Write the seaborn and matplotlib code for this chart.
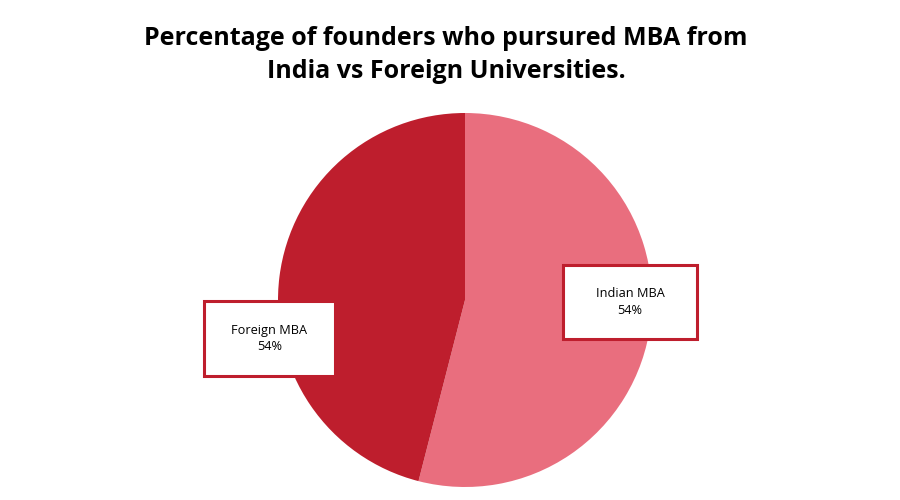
import matplotlib
matplotlib.use("Agg")
import matplotlib.pyplot as plt
from matplotlib.patches import Rectangle
import seaborn as sns

sns.set_theme(style="white")
plt.rcParams['font.family'] = ['Open Sans', 'DejaVu Sans']

# data
labels = ["Indian MBA", "Foreign MBA"]
shares = [54, 46]
shown_pct = ["54%", "54%"]   # as printed on the original chart
colors = ["#E96E7E", "#BE1E2D"]
title = "Percentage of founders who pursured MBA from\nIndia vs Foreign Universities."

W, H = 900, 500
fig = plt.figure(figsize=(9, 5), dpi=100)
fig.patch.set_facecolor("white")

# pie axes: center (465, 300) px, radius 187 px
cx, cy, r = 465, 300, 187
ax = fig.add_axes([(cx - r) / W, (H - cy - r) / H, 2 * r / W, 2 * r / H])
ax.pie(shares, colors=colors, startangle=90, counterclock=False,
       wedgeprops=dict(linewidth=0))
ax.set_xlim(-1, 1)
ax.set_ylim(-1, 1)
ax.set_aspect("equal")
ax.axis("off")

fig.text(446 / W, 1 - 55 / H, title, ha="center", va="center",
         fontsize=18, fontweight="bold", linespacing=1.45, color="black")

# label boxes (x0, y0, x1, y1 in px from top-left)
boxes = [(563, 265, 697, 339), (204, 301, 335, 376)]
for lab, pct, (x0, y0, x1, y1) in zip(labels, shown_pct, boxes):
    rect = Rectangle((x0 / W, 1 - y1 / H), (x1 - x0) / W, (y1 - y0) / H,
                     transform=fig.transFigure, facecolor="white",
                     edgecolor="#BE1E2D", linewidth=2.2, zorder=5)
    fig.patches.append(rect)
    fig.text((x0 + x1) / 2 / W, 1 - (y0 + y1) / 2 / H, f"{lab}\n{pct}",
             ha="center", va="center", fontsize=9.2, linespacing=1.35,
             color="black", zorder=6)

fig.savefig("out.png", dpi=100, facecolor="white")
